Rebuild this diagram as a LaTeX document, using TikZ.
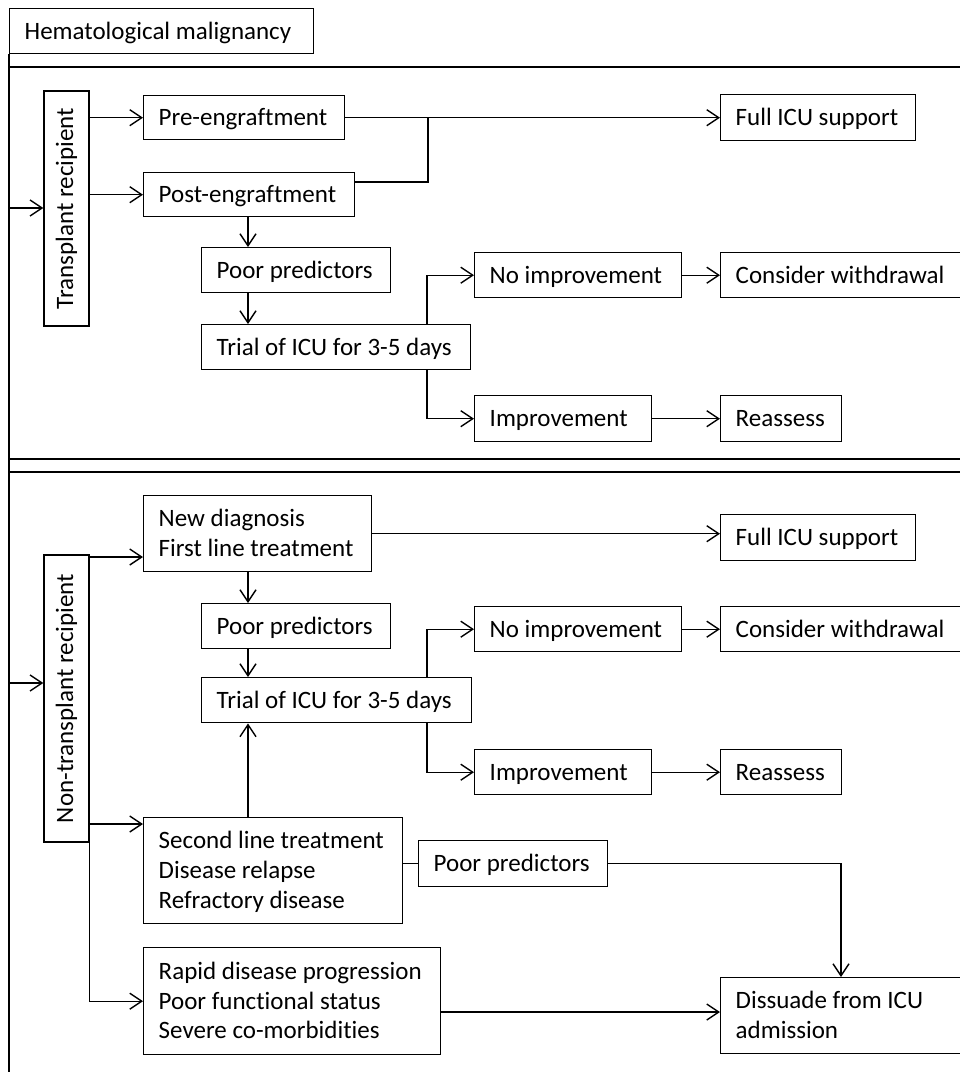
\documentclass[tikz,border=0pt]{standalone}
\usepackage{fontspec}
\setmainfont{Carlito}[Ligatures={NoCommon}]
\usetikzlibrary{arrows.meta}
\newcommand{\rowsbox}[1]{\spaceskip=0pt\xspaceskip=0pt\raisebox{-2pt}[\height][\depth]{\begin{tabular}{@{}l@{}}#1\end{tabular}}}
\begin{document}
\begin{tikzpicture}[x=1pt,y=-1pt,line width=1.4pt,
  box/.style={draw,rectangle,line width=1.4pt,anchor=north west,inner xsep=15pt,inner ysep=0pt,align=left,font=\fontsize{25}{29.8}\selectfont},
  vbox/.style={draw,rectangle,line width=1.4pt,rotate=90,inner sep=0pt,font=\fontsize{25}{29.8}\selectfont},
  arr/.style={-{Straight Barb[length=12pt,width=16pt,line width=1.4pt]}}]
\clip (0,0) rectangle (960,1072);
\fill[white] (0,0) rectangle (960,1072);
% title and section frames
\node[box,minimum width=304pt,minimum height=45pt,text width=274pt] (title) at (9,8) {\rowsbox{Hematological malignancy}};
\coordinate (bot) at (9,1072);
\draw (title.south west) -- (bot);
\draw (9,67) -- (960,67);
\draw (9,459) -- (960,459);
\draw (9,472) -- (960,472);
% ---------- transplant section ----------
\node[vbox,minimum width=235pt,minimum height=45pt] (tr) at (66.5,208.5) {Transplant recipient};
\node[box,minimum width=201pt,minimum height=44pt,text width=171pt] (pre) at (143,95) {\rowsbox{Pre-engraftment}};
\node[box,minimum width=211pt,minimum height=44pt,text width=181pt] (post) at (143,172) {\rowsbox{Post-engraftment}};
\node[box,minimum width=195pt,minimum height=46pt,text width=165pt] (full1) at (720,94) {\rowsbox{Full ICU support}};
\node[box,minimum width=189pt,minimum height=45pt,text width=159pt] (poor1) at (201,247) {\rowsbox{Poor predictors}};
\node[box,minimum width=269pt,minimum height=45pt,text width=239pt] (trial1) at (201,324) {\rowsbox{Trial of ICU for 3-5 days}};
\node[box,minimum width=207pt,minimum height=45pt,text width=177pt] (noimp1) at (474,252) {\rowsbox{No improvement}};
\node[box,minimum width=260pt,minimum height=45pt,text width=230pt] (cw1) at (720,252) {\rowsbox{Consider withdrawal}};
\node[box,minimum width=177pt,minimum height=46pt,text width=147pt] (imp1) at (474,395) {\rowsbox{Improvement}};
\node[box,minimum width=121pt,minimum height=46pt,text width=91pt] (re1) at (720,395) {\rowsbox{Reassess}};
\coordinate (L1) at (9,208);
\coordinate (j1) at (428,117);
\coordinate (colA) at (248,0);
\coordinate (colB) at (427,0);
\coordinate (colC) at (841,0);
\draw[arr] (L1) -- (L1 -| tr.north);
\draw[arr] (tr.south |- pre.west) -- (pre.west);
\draw[arr] (tr.south |- post.west) -- (post.west);
\draw[arr] (pre.east) -- (full1.west);
\draw ([yshift=-10pt]post.north east) -| (j1);
\draw[arr] (colA |- post.south) -- (colA |- poor1.north);
\draw[arr] (colA |- poor1.south) -- (colA |- trial1.north);
\draw[arr] (colB |- trial1.north) |- (noimp1.west);
\draw[arr] (colB |- trial1.south) |- (imp1.west);
\draw[arr] (noimp1.east) -- (cw1.west);
\draw[arr] (imp1.east) -- (re1.west);
% ---------- non-transplant section ----------
\node[vbox,minimum width=287pt,minimum height=45pt] (ntr) at (66.5,698.5) {Non-transplant recipient};
\node[box,minimum width=228pt,minimum height=76pt,text width=198pt] (nd) at (143,495) {\rowsbox{New diagnosis\\First line treatment}};
\node[box,minimum width=195pt,minimum height=46pt,text width=165pt] (full2) at (720,514) {\rowsbox{Full ICU support}};
\node[box,minimum width=189pt,minimum height=45pt,text width=159pt] (poor2) at (201,603) {\rowsbox{Poor predictors}};
\node[box,minimum width=270pt,minimum height=45pt,text width=240pt] (trial2) at (201,677) {\rowsbox{Trial of ICU for 3-5 days}};
\node[box,minimum width=207pt,minimum height=45pt,text width=177pt] (noimp2) at (474,606) {\rowsbox{No improvement}};
\node[box,minimum width=260pt,minimum height=45pt,text width=230pt] (cw2) at (720,606) {\rowsbox{Consider withdrawal}};
\node[box,minimum width=177pt,minimum height=45pt,text width=147pt] (imp2) at (474,749) {\rowsbox{Improvement}};
\node[box,minimum width=121pt,minimum height=45pt,text width=91pt] (re2) at (720,749) {\rowsbox{Reassess}};
\node[box,minimum width=259pt,minimum height=106pt,text width=229pt] (sec) at (143,817) {\rowsbox{Second line treatment\\Disease relapse\\Refractory disease}};
\node[box,minimum width=189pt,minimum height=46pt,text width=159pt] (pp3) at (418,840) {\rowsbox{Poor predictors}};
\node[box,minimum width=297pt,minimum height=107pt,text width=267pt] (rapid) at (143,947) {\rowsbox{Rapid disease progression\\Poor functional status\\Severe co-morbidities}};
\node[box,minimum width=260pt,minimum height=76pt,text width=230pt] (dis) at (720,977) {\rowsbox{Dissuade from ICU\\admission}};
\coordinate (L2) at (9,683);
\coordinate (a2) at (89,557);
\coordinate (a3) at (89,824);
\coordinate (a4) at (440,1012);
\draw[arr] (L2) -- (L2 -| ntr.north);
\draw[arr] (a2) -- (a2 -| nd.west);
\draw[arr] (nd.east) -- (nd.east -| full2.west);
\draw[arr] (colA |- nd.south) -- (colA |- poor2.north);
\draw[arr] (colA |- poor2.south) -- (colA |- trial2.north);
\draw[arr] (colB |- trial2.north) |- (noimp2.west);
\draw[arr] (colB |- trial2.south) |- (imp2.west);
\draw[arr] (noimp2.east) -- (cw2.west);
\draw[arr] (imp2.east) -- (re2.west);
\draw[arr] (a3) -- (a3 -| sec.west);
\draw[arr] (ntr.south west) |- (rapid.west);
\draw[arr] (colA |- sec.north) -- (colA |- trial2.south);
\draw (sec.east |- pp3.west) -- (pp3.west);
\draw[arr] (pp3.east) -| (colC |- dis.north);
\draw[arr] (a4) -- (a4 -| dis.west);
\end{tikzpicture}
\end{document}
